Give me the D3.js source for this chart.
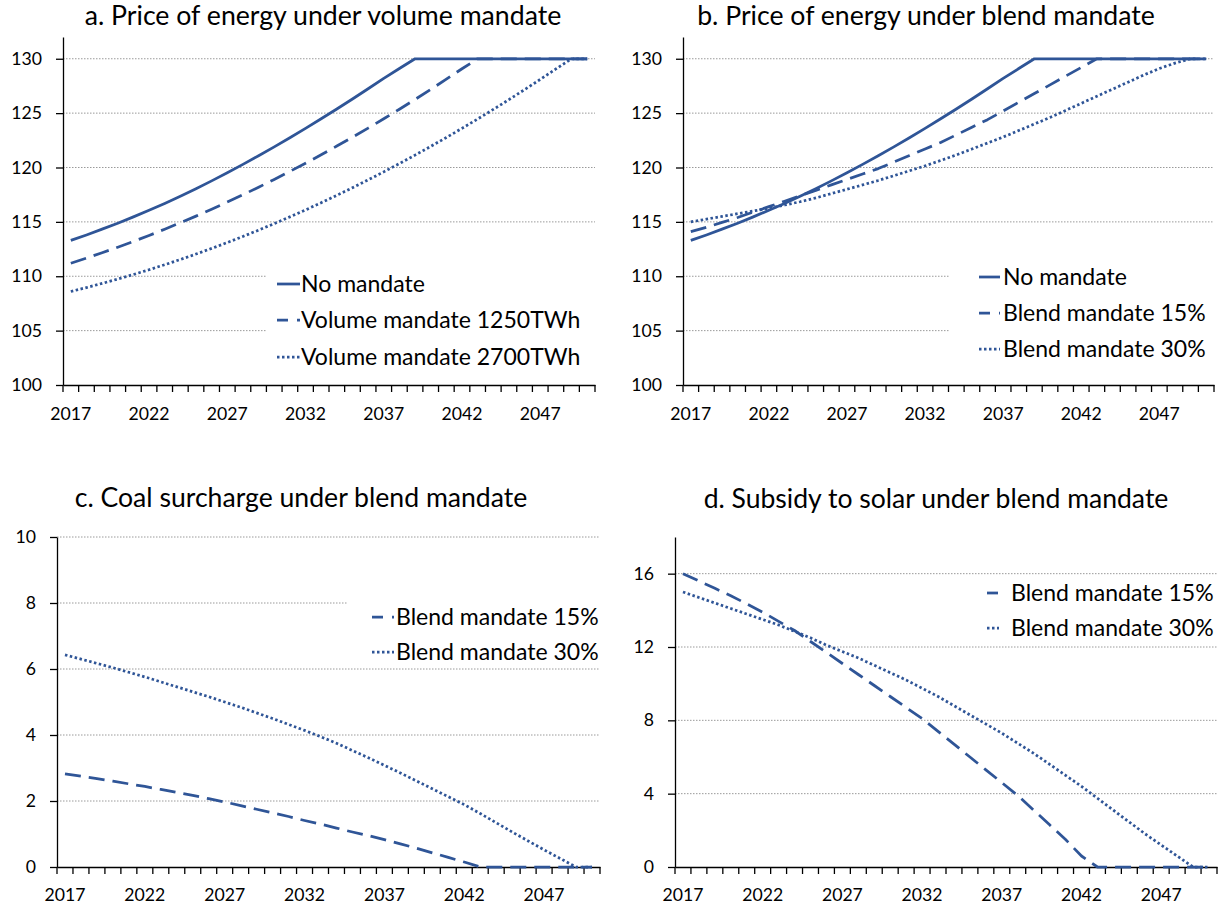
<!DOCTYPE html>
<html>
<head>
<meta charset="utf-8">
<script src="https://cdn.jsdelivr.net/npm/d3@7"></script>
<style>
  html, body { margin: 0; padding: 0; background: #fff; }
  svg { display: block; }
</style>
</head>
<body>
<svg id="chart" width="1229" height="911"></svg>
<script>
// ---------------- DATA ----------------
const years = [2017,2018,2019,2020,2021,2022,2023,2024,2025,2026,2027,2028,2029,2030,2031,2032,2033,2034,
               2035,2036,2037,2038,2039,2040,2041,2042,2043,2044,2045,2046,2047,2048,2049,2050];
const xTickLabels = [2017,2022,2027,2032,2037,2042,2047];

const priceTicks = [100,105,110,115,120,125,130];
const coalTicks = [0,2,4,6,8,10];
const solarTicks = [0,4,8,12,16];

const titles = [
  "a. Price of energy under volume mandate",
  "b. Price of energy under blend mandate",
  "c. Coal surcharge under blend mandate",
  "d. Subsidy to solar under blend mandate"
];

const legendA = ["No mandate","Volume mandate 1250TWh","Volume mandate 2700TWh"];
const legendB = ["No mandate","Blend mandate 15%","Blend mandate 30%"];
const legendCD = ["Blend mandate 15%","Blend mandate 30%"];

// Panel a / b : price of energy
const noMandate = [113.3,113.8,114.33,114.88,115.46,116.07,116.7,117.36,118.05,118.77,119.52,120.29,121.08,121.9,122.74,123.6,124.48,125.38,
                   126.3,127.24,128.2,129.1,130,130,130,130,130,130,130,130,130,130,130,130];
const volume1250 = [111.2,111.67,112.16,112.67,113.2,113.75,114.33,114.92,115.53,116.16,116.82,117.49,118.19,118.9,119.64,120.39,121.17,121.97,
                    122.78,123.62,124.48,125.36,126.26,127.18,128.12,129.08,130,130,130,130,130,130,130,130];
const volume2700 = [108.6,108.96,109.34,109.74,110.16,110.6,111.06,111.54,112.04,112.56,113.1,113.66,114.24,114.84,115.46,116.1,116.76,117.44,
                    118.14,118.86,119.6,120.36,121.14,121.94,122.76,123.6,124.46,125.34,126.24,127.16,128.1,129.06,130,130];
const blend15Price = [114.1,114.5,114.95,115.4,115.9,116.4,116.9,117.4,117.9,118.4,118.9,119.4,119.9,120.5,121.1,121.7,122.3,123.0,123.7,124.4,125.2,126.0,126.8,
                      127.6,128.4,129.2,130,130,130,130,130,130,130,130];
const blend30Price = [115.0,115.25,115.5,115.75,116.0,116.25,116.55,116.85,117.2,117.6,118.0,118.4,118.8,119.25,119.7,120.15,120.65,121.15,121.7,122.25,122.8,
                      123.4,124.0,124.6,125.25,125.9,126.55,127.2,127.85,128.5,129.1,129.6,130,130];

// Panel c : coal surcharge
const coal15 = [2.82,2.75,2.68,2.60,2.52,2.44,2.35,2.26,2.17,2.07,1.97,1.86,1.75,1.64,1.53,1.41,1.30,1.18,1.06,0.95,0.83,0.70,0.57,0.43,0.29,0.15,0,
                0,0,0,0,0,0,0];
const coal30 = [6.43,6.30,6.17,6.04,5.90,5.76,5.61,5.46,5.31,5.16,5.00,4.84,4.67,4.50,4.32,4.14,3.95,3.75,3.53,3.31,3.08,2.85,2.61,2.37,2.13,1.89,1.62,
                1.34,1.06,0.79,0.52,0.26,0,0];

// Panel d : subsidy to solar
const solar15 = [16.0,15.6,15.2,14.8,14.35,13.9,13.4,12.9,12.3,11.7,11.1,10.5,9.9,9.3,8.7,8.1,7.4,6.7,6.0,5.3,4.6,3.9,3.1,2.3,1.5,0.6,0,
                 0,0,0,0,0,0,0];
const solar30 = [15.0,14.7,14.4,14.1,13.8,13.5,13.2,12.85,12.5,12.1,11.75,11.4,11.0,10.6,10.2,9.75,9.3,8.8,8.3,7.8,7.3,6.75,6.2,5.6,5.0,4.4,3.75,
                 3.1,2.45,1.8,1.2,0.6,0,0];

// ---------------- STYLE ----------------
const FONT = "Lato, 'Open Sans', 'DejaVu Sans', sans-serif";
const LINE_COLOR = "#2F5597";
const styles = {
  solid:  { dash: null,      legendDash: null },
  dashed: { dash: "16,8",    legendDash: "11,9" },
  dotted: { dash: "2.5,2.5", legendDash: "2.5,2.5" }
};

const svg = d3.select("#chart");

function fitSize(txt, target) {
  const t = svg.append("text").style("font-family", FONT).style("font-size", "100px").text(txt);
  const w = t.node().getComputedTextLength();
  t.remove();
  return 100 * target / w;
}

const tickFont = fitSize("2017", 41);
const legendFont = fitSize("No mandate", 124);

const panels = [
  { title: titles[0], tx: 323, ty: 25, tw: 477,
    left: 63, right: 595, top: 37, bottom: 385, yDomain: [100,132], yTicks: priceTicks, xPad: 22,
    series: [ {v: noMandate, s: "solid"}, {v: volume1250, s: "dashed"}, {v: volume2700, s: "dotted"} ],
    legend: legendA, lgX: 277, lgW: 23, lgTextX: 301, lgRows: [284,320,357], bg: [266, 258, 329, 122] },
  { title: titles[1], tx: 926, ty: 25, tw: 458,
    left: 683, right: 1214, top: 37, bottom: 385, yDomain: [100,132], yTicks: priceTicks, xPad: 22,
    series: [ {v: noMandate, s: "solid"}, {v: blend15Price, s: "dashed"}, {v: blend30Price, s: "dotted"} ],
    legend: legendB, lgX: 979, lgW: 21, lgTextX: 1003, lgRows: [277,313,349], bg: [949, 255, 265, 122] },
  { title: titles[2], tx: 301, ty: 507, tw: 453,
    left: 57, right: 600, top: 537, bottom: 867, yDomain: [0,10], yTicks: coalTicks, xPad: 21,
    series: [ {v: coal15, s: "dashed"}, {v: coal30, s: "dotted"} ],
    legend: legendCD, lgX: 372, lgW: 22, lgTextX: 396, lgRows: [617,652], bg: [348, 592, 252, 72] },
  { title: titles[3], tx: 936, ty: 508, tw: 465,
    left: 675, right: 1217, top: 537, bottom: 867, yDomain: [0,18], yTicks: solarTicks, xPad: 21,
    series: [ {v: solar15, s: "dashed"}, {v: solar30, s: "dotted"} ],
    legend: legendCD, lgX: 987, lgW: 12, lgTextX: 1011, lgRows: [593,628], bg: null }
];

panels.forEach(p => {
  const g = svg.append("g");
  const x = d3.scaleBand().domain(years).range([p.left, p.right]).padding(0);
  const y = d3.scaleLinear().domain(p.yDomain).range([p.bottom, p.top]);

  // title
  g.append("text")
    .attr("x", p.tx).attr("y", p.ty)
    .attr("text-anchor", "middle")
    .style("font-family", FONT)
    .style("font-size", fitSize(p.title, p.tw) + "px")
    .attr("fill", "#000")
    .text(p.title);

  // gridlines
  g.append("g").selectAll("line")
    .data(p.yTicks.filter(t => t !== p.yDomain[0]))
    .join("line")
    .attr("x1", p.left).attr("x2", p.right)
    .attr("y1", d => y(d)).attr("y2", d => y(d))
    .attr("stroke", "#9a9a9a").attr("stroke-width", 1)
    .attr("stroke-dasharray", "1.5,1.5");

  // legend background (hides gridlines under the legend)
  if (p.bg) {
    g.append("rect").attr("x", p.bg[0]).attr("y", p.bg[1])
      .attr("width", p.bg[2]).attr("height", p.bg[3]).attr("fill", "#fff");
  }

  // y axis
  const yAxis = g.append("g")
    .attr("transform", `translate(${p.left},0)`)
    .call(d3.axisLeft(y).tickValues(p.yTicks).tickSize(7).tickSizeOuter(0).tickPadding(14));
  yAxis.select(".domain").attr("stroke", "#000").attr("stroke-width", 1.3);
  yAxis.selectAll(".tick line").attr("stroke", "#000").attr("stroke-width", 1.3);
  yAxis.selectAll("text").style("font-family", FONT).style("font-size", tickFont + "px").attr("fill", "#000");

  // x axis
  const xAxis = g.append("g")
    .attr("transform", `translate(0,${p.bottom})`)
    .call(d3.axisBottom(x).tickValues(xTickLabels).tickSize(0).tickSizeOuter(0).tickPadding(p.xPad));
  xAxis.select(".domain").attr("stroke", "#000").attr("stroke-width", 1.3);
  xAxis.selectAll("text").style("font-family", FONT).style("font-size", tickFont + "px").attr("fill", "#000");
  const bounds = years.map(d => x(d)).concat([x.range()[1]]);
  xAxis.append("g").selectAll("line").data(bounds).join("line")
    .attr("x1", d => d).attr("x2", d => d)
    .attr("y1", 0).attr("y2", 7)
    .attr("stroke", "#000").attr("stroke-width", 1.3);

  // series
  const line = d3.line()
    .x((d, i) => x(years[i]) + x.bandwidth() / 2)
    .y(d => y(d));
  p.series.forEach(s => {
    g.append("path")
      .datum(s.v)
      .attr("d", line)
      .attr("fill", "none")
      .attr("stroke", LINE_COLOR)
      .attr("stroke-width", 2.75)
      .attr("stroke-linejoin", "round")
      .attr("stroke-dasharray", styles[s.s].dash);
  });

  // legend
  p.legend.forEach((lab, i) => {
    const yy = p.lgRows[i];
    const st = styles[p.series[i].s];
    g.append("line")
      .attr("x1", p.lgX).attr("x2", p.lgX + p.lgW)
      .attr("y1", yy).attr("y2", yy)
      .attr("stroke", LINE_COLOR).attr("stroke-width", 2.75)
      .attr("stroke-dasharray", st.legendDash);
    g.append("text")
      .attr("x", p.lgTextX).attr("y", yy)
      .attr("dy", "0.36em")
      .style("font-family", FONT)
      .style("font-size", legendFont + "px")
      .attr("fill", "#000")
      .text(lab);
  });
});
</script>
</body>
</html>
